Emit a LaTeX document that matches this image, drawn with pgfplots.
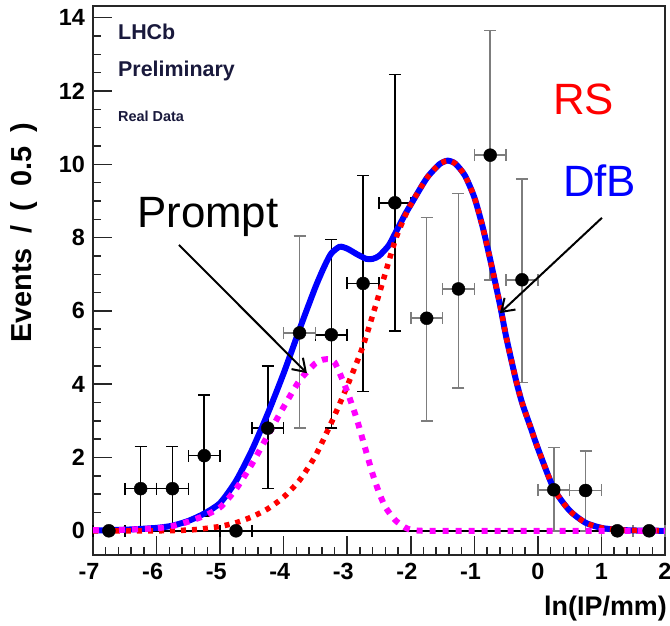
\documentclass[border=0pt]{standalone}
\usepackage{fontspec}
\setmainfont{Liberation Sans}
\usepackage{pgfplots}
\usepackage{pgfplotstable}
\pgfplotsset{compat=1.18}
\usetikzlibrary{arrows.meta}
\definecolor{rsred}{RGB}{255,0,0}
\definecolor{dfbblue}{RGB}{0,0,255}
\definecolor{prmag}{RGB}{255,0,255}
\definecolor{errgray}{RGB}{125,125,125}
\definecolor{lhcbtext}{RGB}{25,25,60}

\pgfplotstableread{
x y ex ep em
-6.75 0 0.25 0 0
-6.25 1.15 0.25 1.15 1.15
-5.75 1.15 0.25 1.15 1.15
-5.25 2.05 0.25 1.65 1.65
-4.75 0 0.25 0 0
-4.25 2.8 0.25 1.7 1.65
-3.25 5.35 0.25 2.6 2.55
-2.75 6.75 0.25 2.95 2.95
-2.25 8.95 0.25 3.5 3.5
}\blackpts

\pgfplotstableread{
x y ex ep em
-3.75 5.4 0.25 2.65 2.6
-1.75 5.8 0.25 2.75 2.8
-1.25 6.6 0.25 2.6 2.7
-0.75 10.25 0.25 3.4 3.4
-0.25 6.85 0.25 2.75 2.8
0.25 1.12 0.25 1.15 1.12
0.75 1.1 0.25 1.07 1.1
1.25 0 0.25 0 0
1.75 0 0.25 0 0
}\graypts

\pgfplotstableread{
x y
-7.0 0.01
-6.5 0.03
-6.0 0.08
-5.75 0.14
-5.5 0.27
-5.25 0.47
-5.0 0.76
-4.75 1.36
-4.5 2.2
-4.25 3.2
-4.0 4.3
-3.75 5.5
-3.5 6.65
-3.35 7.25
-3.25 7.57
-3.12 7.75
-3.0 7.7
-2.85 7.55
-2.7 7.42
-2.6 7.42
-2.5 7.5
-2.35 7.78
-2.25 8.1
-2.1 8.6
-2.0 8.9
-1.75 9.62
-1.55 10.0
-1.42 10.1
-1.3 10.02
-1.15 9.7
-1.0 9.1
-0.87 8.3
-0.75 7.4
-0.6 6.2
-0.5 5.3
-0.35 4.15
-0.25 3.5
-0.1 2.75
0.0 2.25
0.25 1.15
0.5 0.55
0.75 0.22
1.0 0.08
1.25 0.03
1.5 0.01
2.0 0
}\total

\pgfplotstableread{
x y
-7.0 0
-6.0 0
-5.5 0.02
-5.25 0.06
-5.0 0.12
-4.75 0.22
-4.5 0.38
-4.25 0.6
-4.0 0.92
-3.75 1.38
-3.5 2.05
-3.25 2.95
-3.0 3.95
-2.75 5.05
-2.5 6.45
-2.25 7.9
-2.1 8.55
-2.0 8.9
-1.75 9.62
-1.55 10.0
-1.42 10.1
-1.3 10.02
-1.15 9.7
-1.0 9.1
-0.87 8.3
-0.75 7.4
-0.6 6.2
-0.5 5.3
-0.35 4.15
-0.25 3.5
-0.1 2.75
0.0 2.25
0.25 1.15
0.5 0.55
0.75 0.22
1.0 0.08
1.25 0.03
1.5 0.01
2.0 0
}\rscurve

\pgfplotstableread{
x y
-7.0 0.02
-6.5 0.03
-6.0 0.07
-5.75 0.13
-5.5 0.25
-5.25 0.41
-5.0 0.64
-4.75 1.14
-4.5 1.82
-4.25 2.6
-4.0 3.38
-3.75 4.1
-3.5 4.57
-3.35 4.68
-3.2 4.6
-3.0 3.8
-2.85 3.05
-2.75 2.45
-2.6 1.55
-2.5 1.05
-2.4 0.65
-2.25 0.3
-2.1 0.1
-2.0 0.03
-1.8 0.0
-1.0 0.0
0.0 0.0
1.0 0.0
2.0 0.0
}\prompt

\begin{document}
\begin{tikzpicture}
\useasboundingbox (-93bp,-71bp) rectangle (577bp,555bp);
\begin{axis}[
  at={(0,0)}, anchor=south west,
  scale only axis, width=572bp, height=549bp,
  xmin=-7, xmax=2, ymin=-0.66, ymax=14.32,
  clip=false,
  axis line style={line width=1.8bp, black!85},
  xtick={-7,-6,-5,-4,-3,-2,-1,0,1,2},
  xticklabels={\llap{-}7,\llap{-}6,\llap{-}5,\llap{-}4,\llap{-}3,\llap{-}2,\llap{-}1,0,1,2},
  ytick={0,2,4,6,8,10,12,14},
  yticklabels={0,2,4,6,8,10,12,14},
  minor x tick num=4, minor y tick num=3,
  tick align=inside, xtick pos=bottom, ytick pos=left,
  major tick length=19bp, minor tick length=8bp,
  tick style={line width=1.5bp, black!85},
  ticklabel style={font=\fontsize{23.5}{26}\selectfont\bfseries},
  xticklabel style={anchor=base, yshift=-24bp, inner sep=0pt},
  yticklabel style={anchor=east, xshift=-8bp, inner sep=0pt},
]
\addplot[black, line width=1.5bp, forget plot] coordinates {(-7,0) (2,0)};

\addplot[only marks, mark=*, mark size=6.5bp, black,
  error bars/.cd, x dir=both, x explicit, y dir=both, y explicit,
  error bar style={line width=1.6bp, black},
  error mark options={rotate=90, mark size=6bp, line width=1.6bp, black}]
  table[x=x, y=y, x error=ex, y error plus=ep, y error minus=em] {\blackpts};
\addplot[only marks, mark=*, mark size=6.5bp, black,
  error bars/.cd, x dir=both, x explicit, y dir=both, y explicit,
  error bar style={line width=1.6bp, errgray},
  error mark options={rotate=90, mark size=6bp, line width=1.6bp, errgray}]
  table[x=x, y=y, x error=ex, y error plus=ep, y error minus=em] {\graypts};

\addplot[dfbblue, line width=6bp, smooth, tension=0.4] table[x=x,y=y] {\total};
\addplot[rsred, line width=5.5bp, smooth, tension=0.4, dash pattern=on 5bp off 6bp] table[x=x,y=y] {\rscurve};
\addplot[prmag, line width=6bp, smooth, tension=0.4, dash pattern=on 6bp off 7bp] table[x=x,y=y] {\prompt};

\node[anchor=base west, inner sep=0pt, font=\fontsize{21.5}{24}\selectfont\bfseries, text=lhcbtext] at (axis cs:-6.607,13.41) {LHCb};
\node[anchor=base west, inner sep=0pt, font=\fontsize{21.5}{24}\selectfont\bfseries, text=lhcbtext] at (axis cs:-6.607,12.39) {Preliminary};
\node[anchor=base west, inner sep=0pt, font=\fontsize{14.5}{16}\selectfont\bfseries, text=lhcbtext] at (axis cs:-6.607,11.16) {Real Data};

\node[anchor=base west, inner sep=0pt, font=\fontsize{44}{48}\selectfont] at (axis cs:-6.308,8.27) {Prompt};
\node[anchor=base west, inner sep=0pt, font=\fontsize{44}{48}\selectfont, text=rsred] at (axis cs:0.237,11.36) {RS};
\node[anchor=base west, inner sep=0pt, font=\fontsize{44}{48}\selectfont, text=dfbblue] at (axis cs:0.394,9.12) {DfB};

\draw[line width=2bp, -{Straight Barb[length=12bp,width=16bp]}] (axis cs:-5.647,7.80) -- (axis cs:-3.633,4.30);
\draw[line width=2bp, -{Straight Barb[length=12bp,width=16bp]}] (axis cs:1.008,8.54) -- (axis cs:-0.597,5.94);

\node[rotate=90, anchor=east, inner sep=0pt, font=\fontsize{29}{32}\selectfont\bfseries] at ([xshift=-69bp]axis cs:-7,11.14) {Events\hspace{0.5em}/\hspace{0.5em}(\hspace{0.5em}0.5\hspace{0.5em})};
\node[anchor=base east, inner sep=0pt, font=\fontsize{27}{30}\selectfont\bfseries] at ([xshift=2bp,yshift=-60bp]axis cs:2,-0.66) {ln(IP/mm)};
\end{axis}
\end{tikzpicture}
\end{document}
